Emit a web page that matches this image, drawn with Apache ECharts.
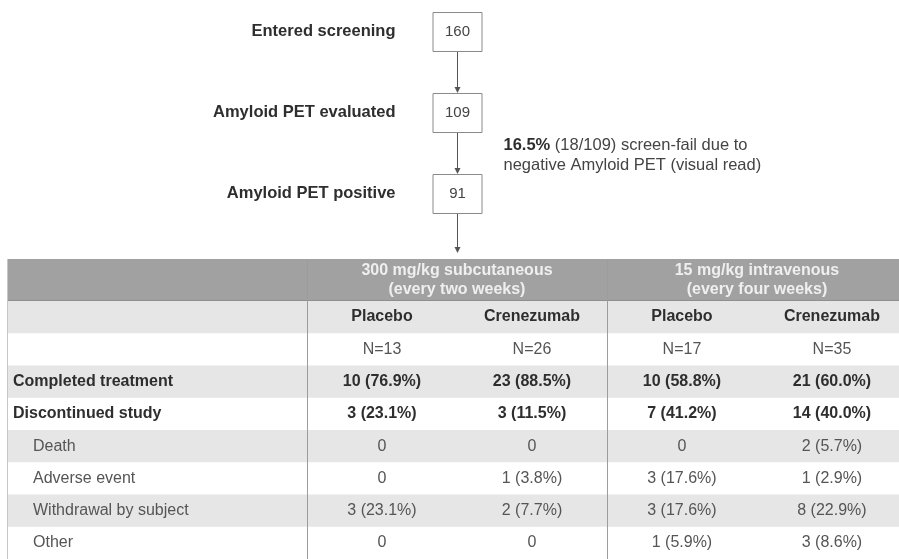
<!DOCTYPE html>
<html><head><meta charset="utf-8">
<script src="https://cdn.jsdelivr.net/npm/echarts/dist/echarts.min.js"></script>
<style>html,body{margin:0;padding:0;background:#fff}#c{width:899px;height:559px}</style>
</head><body><div id="c"></div>
<script>
// ---------------- data ----------------
const stageLabels = ['Entered screening', 'Amyloid PET evaluated', 'Amyloid PET positive'];
const stageCounts = [160, 109, 91];
const screenFailCount = 18;
const screenFailTotal = 109;
const screenFailPct = 16.5;

const groupLabels = ['300 mg/kg subcutaneous\n(every two weeks)', '15 mg/kg intravenous\n(every four weeks)'];
const armLabels = ['Placebo', 'Crenezumab', 'Placebo', 'Crenezumab'];
const armN = [13, 26, 17, 35];

const outcomeLabels = ['Completed treatment', 'Discontinued study', 'Death', 'Adverse event', 'Withdrawal by subject', 'Other'];
const completedN = [10, 23, 10, 21];
const completedPct = [76.9, 88.5, 58.8, 60.0];
const discontinuedN = [3, 3, 7, 14];
const discontinuedPct = [23.1, 11.5, 41.2, 40.0];
const deathN = [0, 0, 0, 2];
const deathPct = [0, 0, 0, 5.7];
const adverseN = [0, 1, 3, 1];
const adversePct = [0, 3.8, 17.6, 2.9];
const withdrawalN = [3, 2, 3, 8];
const withdrawalPct = [23.1, 7.7, 17.6, 22.9];
const otherN = [0, 0, 1, 3];
const otherPct = [0, 0, 5.9, 8.6];

// ---------------- layout / style ----------------
const FONT = "'Liberation Sans', Arial, Helvetica, sans-serif";
const FS = 16;
const FS_FLOW = 16.5;
const L = {
  xMax: 5.947,        // label column 0-2, arm columns 1 unit each (last one clipped by the page edge)
  boxX: 3, boxW: 49, boxH: 39, labelGap: 62, noteGap: 46, noteY: 1.525, arrowEnd: 2.735,
  headerH: 1.3, yMax: 9.3,
  groupCenters: [3, 5], groupDividers: [2, 4]
};
const rowShade = [true, false, true, false, true, false, true, false];
const rowBold = [true, false, true, true, false, false, false, false];
const rowIndent = [0, 0, 0, 0, 1, 1, 1, 1];
const C = { dark: '#2e2e2e', norm: '#555555', header: '#a1a1a1', headerText: '#efefef', shade: '#e6e6e6', line: '#9c9c9c', box: '#8a8a8a', arrow: '#555' };

const outcomeCounts = [completedN, discontinuedN, deathN, adverseN, withdrawalN, otherN];
const outcomePcts = [completedPct, discontinuedPct, deathPct, adversePct, withdrawalPct, otherPct];

function fmt(n, p) { return n === 0 ? '0' : n + ' (' + p.toFixed(1) + '%)'; }
function cellText(k, j) {
  if (k === 0) return armLabels[j];
  if (k === 1) return 'N=' + armN[j];
  return fmt(outcomeCounts[k - 2][j], outcomePcts[k - 2][j]);
}
function rowLabel(k) { return k >= 2 ? outcomeLabels[k - 2] : ''; }

const chart = echarts.init(document.getElementById('c'));

function arrow(x, y0, y1) {
  return [
    { type: 'line', shape: { x1: x, y1: y0, x2: x, y2: y1 - 5 }, style: { stroke: C.arrow, lineWidth: 1 } },
    { type: 'polygon', shape: { points: [[x - 3, y1 - 6], [x + 3, y1 - 6], [x, y1]] }, style: { fill: C.arrow } }
  ];
}

const flowSeries = {
  type: 'custom', xAxisIndex: 0, yAxisIndex: 0, silent: true,
  data: stageCounts.map((c, i) => [L.boxX, i, c]),
  encode: { x: 0, y: 1 },
  renderItem: function (params, api) {
    const i = params.dataIndex;
    const p = api.coord([api.value(0), api.value(1)]);
    const cx = Math.round(p[0]) + 0.5, cy = p[1];
    const ch = [];
    ch.push({ type: 'text', style: { text: stageLabels[i], x: cx - L.labelGap, y: cy, textAlign: 'right', textVerticalAlign: 'middle', fill: C.dark, font: 'bold ' + FS_FLOW + 'px ' + FONT } });
    const next = i < stageCounts.length - 1 ? api.coord([L.boxX, i + 1])[1] - L.boxH / 2 : api.coord([L.boxX, L.arrowEnd])[1];
    ch.push(...arrow(cx, cy + L.boxH / 2, next));
    ch.push({ type: 'rect', shape: { x: cx - L.boxW / 2, y: Math.round(cy - L.boxH / 2) + 0.5, width: L.boxW, height: L.boxH }, style: { fill: '#fff', stroke: C.box, lineWidth: 1 } });
    ch.push({ type: 'text', style: { text: String(api.value(2)), x: cx, y: cy, textAlign: 'center', textVerticalAlign: 'middle', fill: '#444', font: '15px ' + FONT } });
    if (i === 1) {
      const ny = api.coord([L.boxX, L.noteY])[1];
      ch.push({ type: 'text', style: {
        text: '{b|' + screenFailPct.toFixed(1) + '%} (' + screenFailCount + '/' + screenFailTotal + ') screen-fail due to\nnegative Amyloid PET (visual read)',
        x: cx + L.noteGap, y: ny, textAlign: 'left', textVerticalAlign: 'middle', fill: '#444',
        font: FS_FLOW + 'px ' + FONT, lineHeight: 20,
        rich: { b: { fontWeight: 'bold', fill: C.dark, fontSize: FS_FLOW, fontFamily: FONT, lineHeight: 20 } }
      } });
    }
    return { type: 'group', children: ch };
  }
};

const headerSeries = {
  type: 'custom', xAxisIndex: 1, yAxisIndex: 1, silent: true,
  data: [[0, 0]], encode: { x: 0, y: 1 },
  renderItem: function (params, api) {
    const a = api.coord([0, 0]), b = api.coord([L.xMax, L.headerH]);
    const ch = [{ type: 'rect', shape: { x: a[0], y: a[1], width: b[0] - a[0], height: b[1] - a[1] }, style: { fill: C.header } }];
    groupLabels.forEach((g, gi) => {
      const p = api.coord([L.groupCenters[gi], L.headerH / 2]);
      ch.push({ type: 'text', style: { text: g, x: p[0], y: p[1] + 0.5, textAlign: 'center', textVerticalAlign: 'middle', fill: C.headerText, font: 'bold ' + FS + 'px ' + FONT, lineHeight: 19 } });
    });
    ch.push({ type: 'line', shape: { x1: a[0], y1: Math.round(b[1]) - 0.5, x2: b[0], y2: Math.round(b[1]) - 0.5 }, style: { stroke: '#8e8e8e', lineWidth: 1 } });
    return { type: 'group', children: ch };
  }
};

const bodyRows = [0, 1, 2, 3, 4, 5, 6, 7];
const rowSeries = {
  type: 'custom', xAxisIndex: 1, yAxisIndex: 1, silent: true,
  data: bodyRows.map(k => [0, L.headerH + k]), encode: { x: 0, y: 1 },
  renderItem: function (params, api) {
    const k = params.dataIndex;
    const yTop = api.value(1);
    const a = api.coord([0, yTop]), b = api.coord([L.xMax, yTop + 1]);
    const cy = (a[1] + b[1]) / 2;
    const ch = [];
    if (rowShade[k]) ch.push({ type: 'rect', shape: { x: a[0], y: a[1], width: b[0] - a[0], height: b[1] - a[1] }, style: { fill: C.shade } });
    const w = rowBold[k] ? 'bold ' : '';
    const col = rowBold[k] ? C.dark : C.norm;
    ch.push({ type: 'text', style: { text: rowLabel(k), x: a[0] + 6 + rowIndent[k] * 20, y: cy, textAlign: 'left', textVerticalAlign: 'middle', fill: col, font: w + FS + 'px ' + FONT } });
    for (let j = 0; j < 4; j++) {
      const p = api.coord([2.5 + j, yTop + 0.5]);
      ch.push({ type: 'text', style: { text: cellText(k, j), x: p[0], y: cy, textAlign: 'center', textVerticalAlign: 'middle', fill: col, font: w + FS + 'px ' + FONT } });
    }
    return { type: 'group', children: ch };
  }
};

const dividerSeries = {
  type: 'custom', xAxisIndex: 1, yAxisIndex: 1, silent: true, z: 5,
  data: [[0, 0]].concat(L.groupDividers.map(d => [d, 0])), encode: { x: 0, y: 1 },
  renderItem: function (params, api) {
    const a = api.coord([api.value(0), 0]), b = api.coord([api.value(0), L.yMax]);
    const x = Math.round(a[0]) + 0.5;
    return { type: 'line', shape: { x1: x, y1: a[1], x2: x, y2: b[1] }, style: { stroke: params.dataIndex === 0 ? '#c6c6c6' : C.line, lineWidth: 1 } };
  }
};

chart.setOption({
  animation: false,
  grid: [
    { left: 7, right: 0, top: 31.5, height: 162, containLabel: false },
    { left: 7, right: 0, top: 259, bottom: 0, containLabel: false }
  ],
  xAxis: [
    { type: 'value', gridIndex: 0, min: 0, max: L.xMax, show: false },
    { type: 'value', gridIndex: 1, min: 0, max: L.xMax, show: false }
  ],
  yAxis: [
    { type: 'value', gridIndex: 0, min: 0, max: stageLabels.length - 1, inverse: true, show: false },
    { type: 'value', gridIndex: 1, min: 0, max: L.yMax, inverse: true, show: false }
  ],
  series: [flowSeries, headerSeries, rowSeries, dividerSeries]
});
</script>
</body></html>
